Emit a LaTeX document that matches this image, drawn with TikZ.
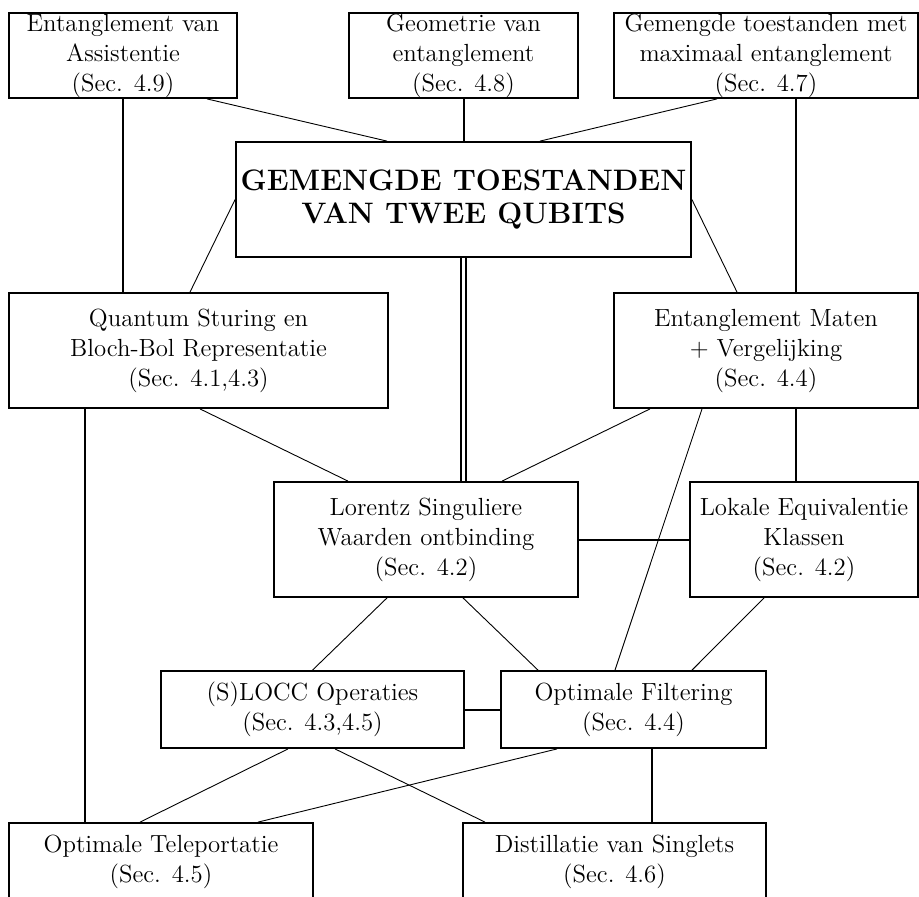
\documentclass[tikz,border=0pt]{standalone}
\usepackage{fontspec}
\usetikzlibrary{calc}

\newcommand{\diagfont}{\fontsize{12.4}{15}\selectfont}
\newcommand{\titlefont}{\fontsize{14.8}{16.5}\selectfont\bfseries}

\begin{document}
\begin{tikzpicture}[
    x=0.5pt, y=-0.5pt,
    box/.style={rectangle, draw=black, line width=0.9pt, inner sep=0pt,
                align=center, font=\diagfont},
    topbox/.style={box, minimum height=42.5pt},
    midbox/.style={box, minimum height=57.5pt},
    lowbox/.style={box, minimum height=38.5pt},
    link/.style={draw=black, line width=0.45pt},
    strong/.style={draw=black, line width=1pt},
    twin/.style={draw=black, double, line width=0.9pt, double distance=1.9pt},
]
\useasboundingbox (0,0) rectangle (919,896);
\clip (0,0) rectangle (919,896);

% top row
\node[topbox, minimum width=114pt] (assist) at (123,55.5) {Entanglement van\\Assistentie\\(Sec. 4.9)};
\node[topbox, minimum width=114.5pt] (geom) at (463.5,55.5) {Geometrie van\\entanglement\\(Sec. 4.8)};
\node[topbox, minimum width=152pt] (maxent) at (766,55.5) {Gemengde toestanden met\\maximaal entanglement\\(Sec. 4.7)};

% central topic
\node[midbox, minimum width=227.5pt, font=\titlefont] (central) at (463.5,199.5) {GEMENGDE TOESTANDEN\\VAN TWEE QUBITS};

% second row
\node[midbox, minimum width=189.5pt] (sturing) at (198.5,350.5) {Quantum Sturing en\\Bloch-Bol Representatie\\(Sec. 4.1,4.3)};
\node[midbox, minimum width=152pt] (maten) at (766,350.5) {Entanglement Maten\\+ Vergelijking\\(Sec. 4.4)};

% third row
\node[midbox, minimum width=152pt] (lorentz) at (426,539.5) {Lorentz Singuliere\\Waarden ontbinding\\(Sec. 4.2)};
\node[midbox, minimum width=114pt] (lokale) at (804,539.5) {Lokale Equivalentie\\Klassen\\(Sec. 4.2)};

% fourth row
\node[lowbox, minimum width=151.5pt] (slocc) at (312.5,709.5) {(S)LOCC Operaties\\(Sec. 4.3,4.5)};
\node[lowbox, minimum width=132.5pt] (filter) at (633.5,709.5) {Optimale Filtering\\(Sec. 4.4)};

% bottom row
\node[lowbox, minimum width=152pt] (telep) at (161,861.5) {Optimale Teleportatie\\(Sec. 4.5)};
\node[lowbox, minimum width=151.5pt] (distil) at (614.5,861.5) {Distillatie van Singlets\\(Sec. 4.6)};

% links to the central box
\draw[link] ($(assist.south)+(84,0)$) -- ($(central.north)+(-76.5,0)$);
\draw[strong] (geom.south) -- (geom.south |- central.north);
\draw[link] ($(maxent.south)+(-49,0)$) -- ($(central.north)+(76.5,0)$);
\draw[link] (central.west) -- ($(sturing.north)+(-8.5,0)$);
\draw[link] (central.east) -- ($(maten.north)+(-29,0)$);
\draw[twin] (central.south) -- (central.south |- lorentz.north);

% long vertical links
\draw[strong] (assist.south) -- (assist.south |- sturing.north);
\draw[strong] ($(maxent.south)+(30,0)$) coordinate (mx) -- (mx |- maten.north);
\draw[strong] ($(sturing.south)+(-113.5,0)$) coordinate (sx) -- (sx |- telep.north);
\draw[strong] ($(maten.south)+(30,0)$) coordinate (tx) -- (tx |- lokale.north);
\draw[strong] ($(filter.south)+(18.5,0)$) coordinate (fx) -- (fx |- distil.north);

% middle part
\draw[link] ($(sturing.south)+(1.5,0)$) -- ($(lorentz.north)+(-78,0)$);
\draw[link] ($(maten.south)+(-116,0)$) -- ($(lorentz.north)+(76,0)$);
\draw[link] ($(maten.south)+(-64,0)$) -- ($(filter.north)+(-18.5,0)$);
\draw[strong] (lorentz.east) -- (lokale.west);
\draw[link] ($(lorentz.south)+(-39,0)$) -- (slocc.north);
\draw[link] ($(lorentz.south)+(37,0)$) -- ($(filter.north)+(-95.5,0)$);
\draw[link] ($(lokale.south)+(-40,0)$) -- ($(filter.north)+(58.5,0)$);
\draw[strong] (slocc.east) -- (filter.west);

% lower part
\draw[link] ($(slocc.south)+(-24.5,0)$) -- ($(telep.north)+(-21,0)$);
\draw[link] ($(slocc.south)+(22.5,0)$) -- ($(distil.north)+(-129.5,0)$);
\draw[link] ($(filter.south)+(-76.5,0)$) -- ($(telep.north)+(97,0)$);

\end{tikzpicture}
\end{document}
